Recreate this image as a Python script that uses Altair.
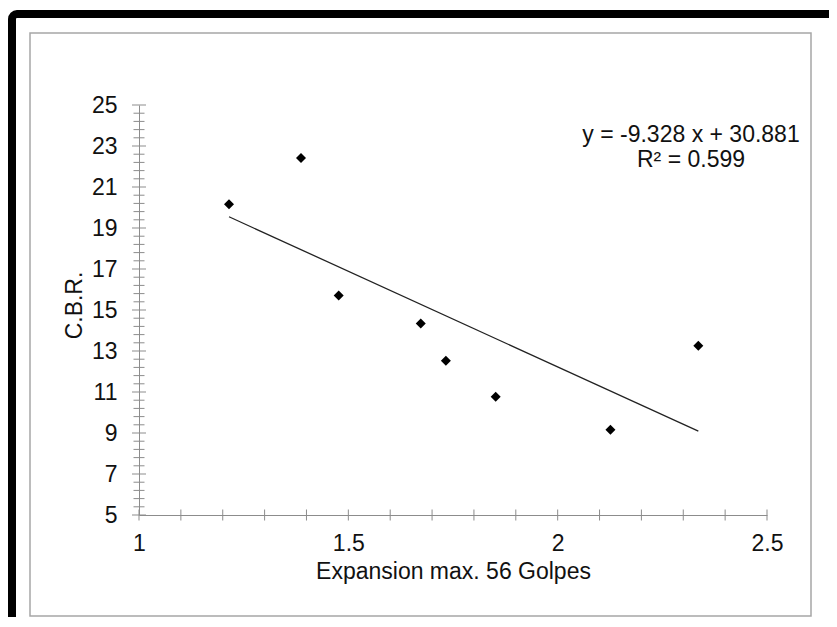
import altair as alt
import pandas as pd

# ---- data ----
expansion = [1.215, 1.387, 1.477, 1.673, 1.733, 1.852, 2.126, 2.336]
cbr = [20.16, 22.41, 15.71, 14.34, 12.53, 10.77, 9.16, 13.26]
slope = -9.328
intercept = 30.881
r_squared = 0.599

x_labels = [1, 1.5, 2, 2.5]
x_minor = [1.0, 1.1, 1.2, 1.3, 1.4, 1.5, 1.6, 1.7, 1.8, 1.9, 2.0, 2.1, 2.2, 2.3, 2.4, 2.5]
y_labels = [5, 7, 9, 11, 13, 15, 17, 19, 21, 23, 25]
y_minor = [round(5 + 0.4 * i, 1) for i in range(51)]

FONT = "Liberation Sans"
GRAY = "#8c8c8c"
FS = 23
W, H = 628, 410

pts = pd.DataFrame({"x": expansion, "y": cbr})
fit_x = [min(expansion), max(expansion)]
fit = pd.DataFrame({"x": fit_x, "y": [slope * v + intercept for v in fit_x]})
xt = pd.DataFrame({"v": x_minor})
yt_minor = pd.DataFrame({"v": [v for v in y_minor if v not in y_labels]})
yt_major = pd.DataFrame({"v": y_labels})
one = pd.DataFrame({"k": [0]})

xscale = alt.Scale(domain=[1, 2.5], nice=False, zero=False)
yscale = alt.Scale(domain=[5, 25], nice=False, zero=False)

outer = alt.Chart(one).mark_rect(
    fill=None, stroke="black", strokeWidth=8, cornerRadius=5
).encode(x=alt.value(-127), x2=alt.value(760), y=alt.value(-91), y2=alt.value(560))

inner = alt.Chart(one).mark_rect(
    fill=None, stroke="#a6a6a6", strokeWidth=1.5
).encode(x=alt.value(-109), x2=alt.value(672), y=alt.value(-72), y2=alt.value(511))

xticks = alt.Chart(xt).mark_tick(orient="vertical", size=11, thickness=1, color=GRAY, opacity=1).encode(
    x=alt.X("v:Q", scale=xscale, axis=None), y=alt.value(H)
)
yticks_minor = alt.Chart(yt_minor).mark_tick(orient="horizontal", size=11, thickness=1, color=GRAY, opacity=1).encode(
    y=alt.Y("v:Q", scale=yscale, axis=None), x=alt.value(0)
)
yticks_major = alt.Chart(yt_major).mark_tick(orient="horizontal", size=14, thickness=1, color=GRAY, opacity=1).encode(
    y=alt.Y("v:Q", scale=yscale, axis=None), x=alt.value(0)
)

line = alt.Chart(fit).mark_line(color="#222222", strokeWidth=1.3).encode(
    x=alt.X("x:Q", scale=xscale, axis=None), y=alt.Y("y:Q", scale=yscale, axis=None)
)

points = alt.Chart(pts).mark_point(shape="diamond", filled=True, color="black", size=100, opacity=1).encode(
    x=alt.X("x:Q", scale=xscale, axis=alt.Axis(
        values=x_labels, format="~g", ticks=False, grid=False,
        domainColor=GRAY, domainWidth=1, labelFontSize=FS, labelFont=FONT, labelColor="#111",
        labelPadding=17, labelFlush=False, labelOverlap=False,
        title="Expansion max. 56 Golpes", titleFont=FONT, titleFontSize=FS, titleFontWeight="normal",
        titleColor="#111", titleX=W / 2, titleY=63, titleBaseline="alphabetic", titleAlign="center")),
    y=alt.Y("y:Q", scale=yscale, axis=alt.Axis(
        values=y_labels, format="d", ticks=False, grid=False,
        domainColor=GRAY, domainWidth=1, labelFontSize=FS, labelFont=FONT, labelColor="#111",
        labelPadding=22, labelFlush=False, labelOverlap=False,
        title="C.B.R.", titleFont=FONT, titleFontSize=FS, titleFontWeight="normal", titleColor="#111",
        titleAngle=270, titleX=-58, titleY=200, titleBaseline="alphabetic", titleAlign="center")),
)

eq_text = f"y = {slope:.3f} x + {intercept:.3f}\nR² = {r_squared:.3f}"
equation = alt.Chart(one).mark_text(
    text=eq_text, lineBreak="\n", lineHeight=25, font=FONT, fontSize=FS, color="#111",
    align="center", baseline="alphabetic"
).encode(x=alt.value(552), y=alt.value(37))

chart = alt.layer(
    outer, inner, xticks, yticks_minor, yticks_major, line, points, equation
).resolve_axis(x="independent", y="independent").properties(
    width=W, height=H,
    padding={"left": 131, "top": 97, "right": 62, "bottom": 102},
    autosize=alt.AutoSizeParams(type="none"),
    background="white",
).configure_view(stroke=None)

chart.save("out.html", embed_options={"renderer": "svg", "actions": False})
